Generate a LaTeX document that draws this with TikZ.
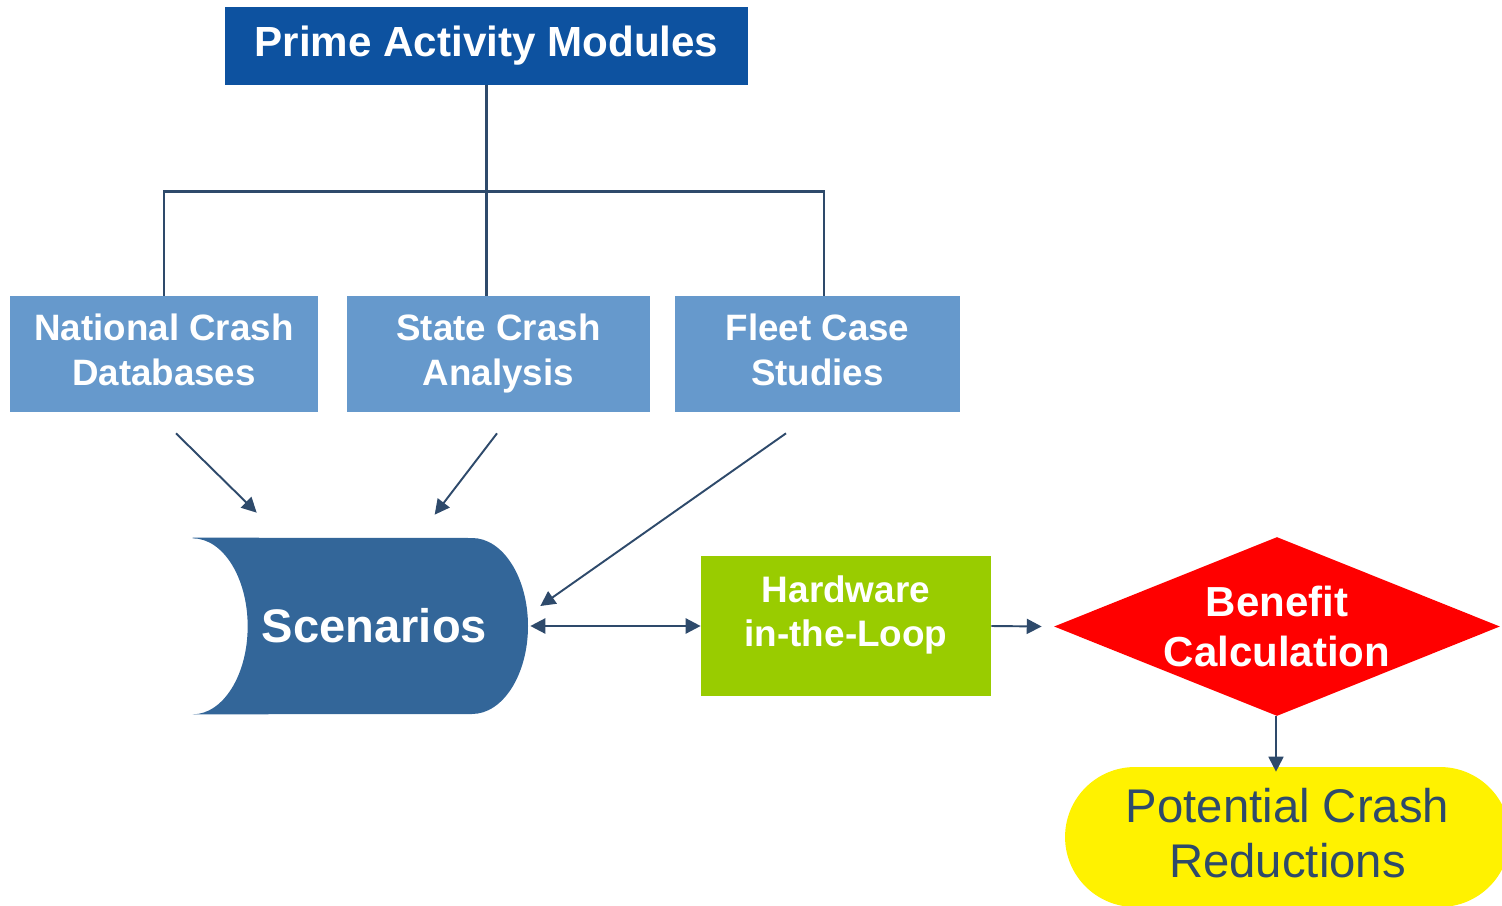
\documentclass[tikz,border=0pt]{standalone}
\usepackage{fontspec}
\setmainfont{Liberation Sans}
\usetikzlibrary{arrows.meta,calc,shapes.geometric}

\definecolor{titleblue}{HTML}{0D52A0}
\definecolor{srcblue}{HTML}{6699CC}
\definecolor{scenblue}{HTML}{336699}
\definecolor{hwgreen}{HTML}{99CC00}
\definecolor{linkcol}{HTML}{2E4A6B}

\tikzset{
  titlebox/.style={fill=titleblue, text=white, inner sep=0pt,
    font=\bfseries\fontsize{24}{28}\selectfont},
  srcbox/.style={fill=srcblue, text=white, inner sep=0pt, align=center,
    minimum height=2.32cm, font=\bfseries\fontsize{20.9}{25.5}\selectfont},
  treeline/.style={draw=linkcol, line width=1.6pt},
  arr/.style={draw=linkcol, line width=1.1pt,
    -{Triangle[length=8.5pt,width=8.5pt]}},
  darr/.style={draw=linkcol, line width=1.4pt,
    {Triangle[length=8.5pt,width=8.5pt]}-{Triangle[length=8.5pt,width=8.5pt]}},
  lbl/.style={text=white, inner sep=0pt, align=center},
}

\begin{document}
\begin{tikzpicture}[x=0.02cm, y=-0.02cm]
\useasboundingbox (0,0) rectangle (1502,906);
\clip (0,0) rectangle (1502,906);

% top module and its three sources (struts keep the lines level across boxes)
\node[titlebox, minimum width=10.46cm, minimum height=1.56cm] (title) at (486.5,46) {Prime Activity Modules};
\node[srcbox, minimum width=6.16cm] (nat) at (164,354) {\strut National Crash\\Databases\strut};
\node[srcbox, minimum width=6.06cm] (sta) at (498.5,354) {\strut State Crash\\Analysis\strut};
\node[srcbox, minimum width=5.70cm] (flt) at (817.5,354) {\strut Fleet Case\\Studies\strut};

% tree connector
\draw[treeline] (title.south) -- (title.south |- sta.north);
\draw[treeline] (nat.north) -- ++(0,-104) -- ($(flt.north)+(6.5,-104)$) -- ($(flt.north)+(6.5,0)$);

% scenarios store shape
\node[minimum width=6.7cm, minimum height=3.52cm, inner sep=0pt] (scen) at (360.5,626) {};
\fill[scenblue] (scen.north west) -- (472,538)
  arc[start angle=-90, end angle=90, x radius=56, y radius=88]
  -- (scen.south west)
  arc[start angle=90, end angle=-90, x radius=55, y radius=88] -- cycle;
\node[lbl, font=\bfseries\fontsize{26.8}{30}\selectfont] at ($(scen)+(14,0)$) {Scenarios};

% hardware in the loop
\node[fill=hwgreen, minimum width=5.8cm, minimum height=2.8cm, inner sep=0pt] (hw) at (846,626) {};
\node[lbl, font=\bfseries\fontsize{21}{25.5}\selectfont] at ($(hw)+(0,-11)$) {Hardware\\in-the-Loop};

% benefit calculation
\node[diamond, fill=red, minimum width=8.92cm, minimum height=3.58cm, inner sep=0pt] (ben) at (1277,626.5) {};
\node[lbl, font=\bfseries\fontsize{23.9}{28.3}\selectfont] at (ben) {Benefit\\Calculation};

% outcome
\node[fill=yellow, rounded corners=1.4cm, minimum width=8.9cm, minimum height=2.8cm, inner sep=0pt] (pot) at (1287.5,837) {};
\node[text=linkcol, inner sep=0pt, align=center, font=\fontsize{26.9}{31.2}\selectfont]
  at ($(pot)+(0,-4)$) {Potential Crash\\Reductions};

% flow arrows
\draw[arr] ($(nat.south)+(12,21)$) -- ($(scen.north west)+(64,-25)$);
\draw[arr] ($(sta.south)+(-1.5,21)$) -- ($(scen.north west)+(242,-23)$);
\draw[arr] ($(flt.south)+(-31.5,21)$) -- ($(scen.east)+(12,-20)$);
\draw[darr] ($(scen.east)+(2,0)$) -- (hw.west);
\draw[arr] (hw.east) -- ($(ben.west)+(-12,0)$);
\draw[arr] ($(ben.south)+(-1,0)$) -- ($(ben.south |- pot.north)+(-1,5)$);
\end{tikzpicture}
\end{document}
